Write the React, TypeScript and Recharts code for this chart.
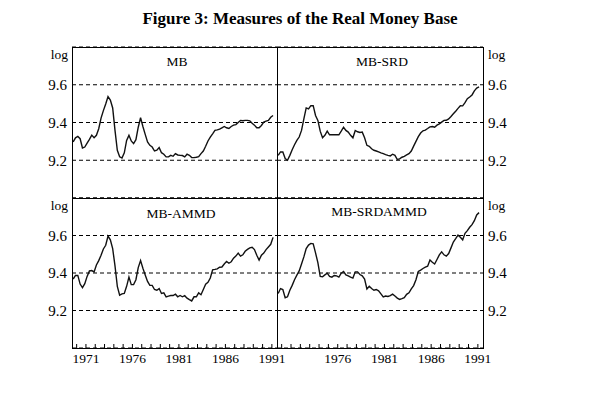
import { LineChart, Line, XAxis, YAxis, CartesianGrid } from 'recharts'

// quarterly log real money base, 1969Q3 - 1991Q1
const mb = [
  9.297, 9.319, 9.326, 9.314, 9.265, 9.27, 9.291, 9.311, 9.333, 9.319,
  9.332, 9.367, 9.423, 9.463, 9.498, 9.537, 9.519, 9.477, 9.358, 9.253,
  9.218, 9.212, 9.239, 9.305, 9.332, 9.302, 9.288, 9.309, 9.375, 9.425,
  9.379, 9.337, 9.297, 9.279, 9.27, 9.249, 9.253, 9.267, 9.24, 9.232,
  9.218, 9.218, 9.226, 9.221, 9.235, 9.228, 9.226, 9.225, 9.218, 9.232,
  9.226, 9.214, 9.214, 9.216, 9.219, 9.235, 9.249, 9.274, 9.302, 9.323,
  9.34, 9.358, 9.361, 9.365, 9.372, 9.379, 9.372, 9.368, 9.379, 9.386,
  9.389, 9.4, 9.411, 9.409, 9.411, 9.411, 9.409, 9.396, 9.386, 9.372,
  9.372, 9.384, 9.402, 9.407, 9.411, 9.428, 9.437,
]
const mbSrd = [
  9.226, 9.244, 9.244, 9.209, 9.2, 9.226, 9.256, 9.282, 9.305, 9.323,
  9.358, 9.419, 9.477, 9.472, 9.489, 9.489, 9.437, 9.411, 9.354, 9.319,
  9.332, 9.354, 9.335, 9.335, 9.335, 9.335, 9.335, 9.354, 9.375, 9.358,
  9.349, 9.332, 9.319, 9.358, 9.351, 9.347, 9.349, 9.319, 9.279, 9.274,
  9.261, 9.253, 9.249, 9.244, 9.239, 9.235, 9.23, 9.226, 9.223, 9.232,
  9.226, 9.204, 9.207, 9.216, 9.221, 9.228, 9.235, 9.249, 9.275, 9.3,
  9.325, 9.344, 9.356, 9.36, 9.368, 9.377, 9.379, 9.375, 9.386, 9.393,
  9.402, 9.411, 9.412, 9.419, 9.432, 9.446, 9.46, 9.475, 9.489, 9.488,
  9.505, 9.526, 9.535, 9.546, 9.568, 9.582, 9.589,
]
const mbAmmd = [
  9.368, 9.387, 9.387, 9.341, 9.322, 9.343, 9.382, 9.411, 9.413, 9.406,
  9.443, 9.466, 9.495, 9.528, 9.548, 9.597, 9.577, 9.53, 9.438, 9.329,
  9.282, 9.289, 9.291, 9.329, 9.378, 9.338, 9.338, 9.364, 9.429, 9.466,
  9.425, 9.389, 9.355, 9.334, 9.334, 9.312, 9.308, 9.317, 9.291, 9.294,
  9.273, 9.277, 9.28, 9.28, 9.287, 9.273, 9.28, 9.273, 9.279, 9.266,
  9.258, 9.251, 9.273, 9.273, 9.294, 9.284, 9.312, 9.34, 9.35, 9.373,
  9.417, 9.419, 9.422, 9.431, 9.432, 9.448, 9.462, 9.452, 9.46, 9.479,
  9.49, 9.506, 9.49, 9.497, 9.516, 9.526, 9.534, 9.537, 9.525, 9.495,
  9.469, 9.495, 9.506, 9.525, 9.539, 9.553, 9.59,
]
const mbSrdAmmd = [
  9.291, 9.317, 9.312, 9.268, 9.273, 9.308, 9.334, 9.364, 9.389, 9.411,
  9.448, 9.486, 9.53, 9.549, 9.558, 9.556, 9.507, 9.455, 9.382, 9.38,
  9.39, 9.399, 9.382, 9.378, 9.387, 9.385, 9.378, 9.399, 9.408, 9.39,
  9.385, 9.378, 9.373, 9.406, 9.406, 9.392, 9.385, 9.368, 9.315, 9.329,
  9.317, 9.308, 9.312, 9.305, 9.289, 9.273, 9.277, 9.275, 9.279, 9.287,
  9.277, 9.266, 9.259, 9.263, 9.268, 9.286, 9.294, 9.315, 9.333, 9.364,
  9.408, 9.415, 9.424, 9.431, 9.436, 9.469, 9.457, 9.448, 9.472, 9.497,
  9.513, 9.497, 9.49, 9.504, 9.534, 9.565, 9.583, 9.602, 9.591, 9.577,
  9.612, 9.626, 9.644, 9.658, 9.679, 9.71, 9.722,
]

const firstQuarter = 1969.625 // mid-point of 1969Q3
const yTicks = [9.2, 9.4, 9.6]
const yearTicks = [
  1970, 1971, 1972, 1973, 1974, 1975, 1976, 1977, 1978, 1979, 1980,
  1981, 1982, 1983, 1984, 1985, 1986, 1987, 1988, 1989, 1990, 1991,
]
const leftYearLabels = [1971, 1976, 1981, 1986, 1991]
const rightYearLabels = [1976, 1981, 1986, 1991]

const rows = mb.map((v, i) => ({
  t: firstQuarter + i * 0.25,
  mb: v,
  srd: mbSrd[i],
  ammd: mbAmmd[i],
  srdammd: mbSrdAmmd[i],
}))

const serif = '"Liberation Serif", "Times New Roman", serif'
const W = 600
const H = 398
const AX = 30 // room kept for each axis
const frame = { left: 72, midX: 277, right: 483, top: 47, midY: 198, bottom: 348 }

function YearTick(props: any) {
  const { x, y, payload, labels } = props
  const show = labels.includes(payload.value)
  return (
    <g>
      <line x1={x} x2={x} y1={y} y2={y - 4} stroke="#000" strokeWidth={1} />
      {show && (
        <text x={x} y={y + 15} textAnchor="middle" fontSize={13.5} fontFamily={serif} fill="#000">
          {payload.value}
        </text>
      )}
    </g>
  )
}

interface PanelProps {
  dataKey: string
  side: 'left' | 'right'
  row: 'top' | 'bottom'
  yearLabels?: number[]
}

function Panel({ dataKey, side, row, yearLabels }: PanelProps) {
  const margin = {
    left: side === 'left' ? frame.left - AX : frame.midX,
    right: side === 'left' ? W - frame.midX : W - frame.right - AX,
    top: row === 'top' ? frame.top : frame.midY,
    bottom: row === 'top' ? H - frame.midY : H - frame.bottom - AX,
  }
  return (
    <div style={{ position: 'absolute', left: 0, top: 0 }}>
      <LineChart width={W} height={H} data={rows} margin={margin}>
        <CartesianGrid vertical={false} stroke="#000" strokeDasharray="4 3" />
        <XAxis
          type="number"
          dataKey="t"
          domain={[1969.5, 1991.55]}
          ticks={yearTicks}
          interval={0}
          hide={row === 'top'}
          height={AX}
          axisLine={false}
          tickLine={false}
          tickSize={0}
          tickMargin={0}
          tick={(p: any) => <YearTick {...p} labels={yearLabels ?? []} />}
        />
        <YAxis
          type="number"
          domain={[9.0, 9.8]}
          ticks={yTicks}
          orientation={side}
          width={AX}
          axisLine={false}
          tickLine={false}
          tickSize={0}
          tickMargin={5}
          interval={0}
          tickFormatter={(v: number) => v.toFixed(1)}
          tick={{ fontSize: 15, fill: '#000', fontFamily: serif }}
        />
        <Line
          type="linear"
          dataKey={dataKey}
          stroke="#111"
          strokeWidth={1.4}
          dot={false}
          isAnimationActive={false}
        />
      </LineChart>
    </div>
  )
}

export default function App() {
  const txt = { fontFamily: serif, fill: '#000' }
  return (
    <div style={{ position: 'absolute', left: 0, top: 0, width: W, height: H, background: '#fff' }}>
      <Panel dataKey="mb" side="left" row="top" />
      <Panel dataKey="srd" side="right" row="top" />
      <Panel dataKey="ammd" side="left" row="bottom" yearLabels={leftYearLabels} />
      <Panel dataKey="srdammd" side="right" row="bottom" yearLabels={rightYearLabels} />
      <svg width={W} height={H} style={{ position: 'absolute', left: 0, top: 0, pointerEvents: 'none' }}>
        <text x={300} y={24} textAnchor="middle" fontSize={17} fontWeight="bold" {...txt}>
          Figure 3: Measures of the Real Money Base
        </text>
        <rect
          x={frame.left + 0.5}
          y={frame.top + 0.5}
          width={frame.right - frame.left}
          height={frame.bottom - frame.top}
          fill="none"
          stroke="#000"
        />
        <line x1={frame.midX + 0.5} x2={frame.midX + 0.5} y1={frame.top} y2={frame.bottom} stroke="#000" />
        <line x1={frame.left} x2={frame.right} y1={frame.midY + 0.5} y2={frame.midY + 0.5} stroke="#000" />
        <text x={177} y={66} textAnchor="middle" fontSize={13.5} {...txt}>MB</text>
        <text x={382} y={66} textAnchor="middle" fontSize={13.5} {...txt}>MB-SRD</text>
        <text x={181} y={218} textAnchor="middle" fontSize={13.5} {...txt}>MB-AMMD</text>
        <text x={379} y={216} textAnchor="middle" fontSize={13.5} {...txt}>MB-SRDAMMD</text>
        <text x={68} y={59} textAnchor="end" fontSize={13.5} {...txt}>log</text>
        <text x={488} y={59} fontSize={13.5} {...txt}>log</text>
        <text x={68} y={210} textAnchor="end" fontSize={13.5} {...txt}>log</text>
        <text x={488} y={210} fontSize={13.5} {...txt}>log</text>
      </svg>
    </div>
  )
}
